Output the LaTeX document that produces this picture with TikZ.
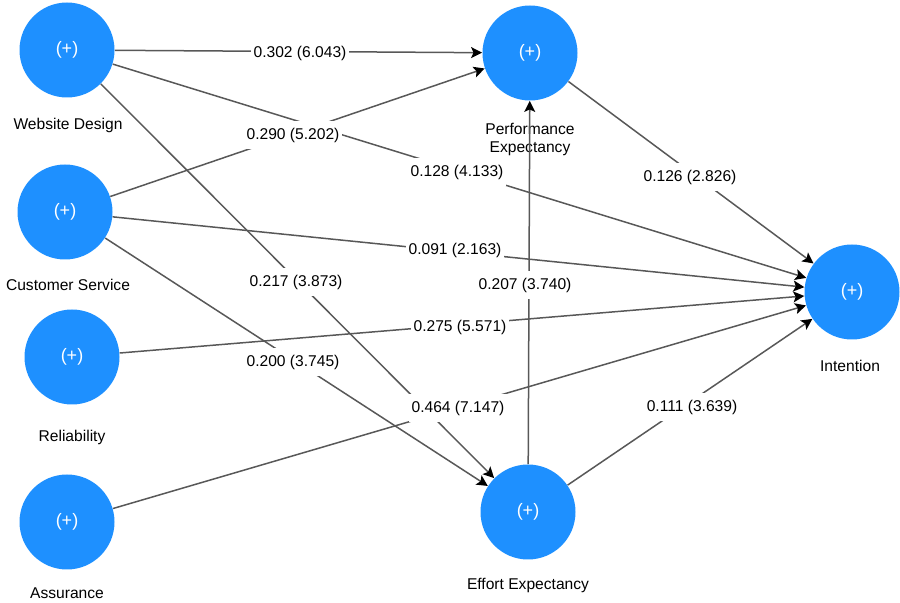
\documentclass[tikz,border=0pt]{standalone}
\usepackage{fontspec}
\setmainfont{Liberation Sans}
\usetikzlibrary{arrows.meta}
\definecolor{nodeblue}{RGB}{30,144,255}
\definecolor{linegray}{RGB}{88,88,88}
\begin{document}
\begin{tikzpicture}[x=0.5pt,y=-0.5pt,
  construct/.style={circle,fill=nodeblue,minimum size=47.5pt,inner sep=0pt,text=white,font=\fontsize{9}{10}\selectfont},
  caption/.style={font=\fontsize{7.8}{9}\selectfont,text=black,align=center,inner sep=0pt},
  conn/.style={draw=linegray,line width=0.75pt,-{Stealth[length=5.5pt,width=5.5pt,inset=1.2pt,color=black]}},
  coef/.style={fill=white,font=\fontsize{7.8}{9}\selectfont,inner xsep=1.5pt,inner ysep=3.2pt}
]
\useasboundingbox (0,0) rectangle (900,603);
% constructs
\node[construct] (wd) at (67,50) {(+)};
\node[construct] (cs) at (65,212) {(+)};
\node[construct] (rel) at (72,357) {(+)};
\node[construct] (as) at (67,522) {(+)};
\node[construct] (pe) at (530,53) {(+)};
\node[construct] (ee) at (528,512) {(+)};
\node[construct] (in) at (852,292) {(+)};
% captions
\node[caption] (wdl) at (68,125) {Website Design};
\node[caption] (csl) at (68,285) {Customer Service};
\node[caption] (rell) at (72,437) {Reliability};
\node[caption] (asl) at (67,593) {Assurance};
\node[caption] (pel) at (530,139) {Performance\\Expectancy};
\node[caption] (eel) at (528,585) {Effort Expectancy};
\node[caption] (inl) at (850,366) {Intention};
% connectors
\draw[conn] (wd) -- (pe);
\draw[conn] (wd) -- (in);
\draw[conn] (wd) -- (ee);
\draw[conn] (cs) -- (pe);
\draw[conn] (cs) -- (in);
\draw[conn] (cs) -- (ee);
\draw[conn] (rel) -- (in);
\draw[conn] (as) -- (in);
\draw[conn] (pe) -- (in);
\draw[conn] (ee) -- (pe);
\draw[conn] (ee) -- (in);
% coefficients
\node[coef] (c1) at (300,53) {0.302 (6.043)};
\node[coef] (c2) at (293,135) {0.290 (5.202)};
\node[coef] (c3) at (457,172) {0.128 (4.133)};
\node[coef] (c4) at (690,177) {0.126 (2.826)};
\node[coef] (c5) at (455,250) {0.091 (2.163)};
\node[coef] (c6) at (296,282) {0.217 (3.873)};
\node[coef] (c7) at (525,285) {0.207 (3.740)};
\node[coef] (c8) at (460,327) {0.275 (5.571)};
\node[coef] (c9) at (293,362) {0.200 (3.745)};
\node[coef] (c10) at (458,408) {0.464 (7.147)};
\node[coef] (c11) at (692,407) {0.111 (3.639)};
\end{tikzpicture}
\end{document}
